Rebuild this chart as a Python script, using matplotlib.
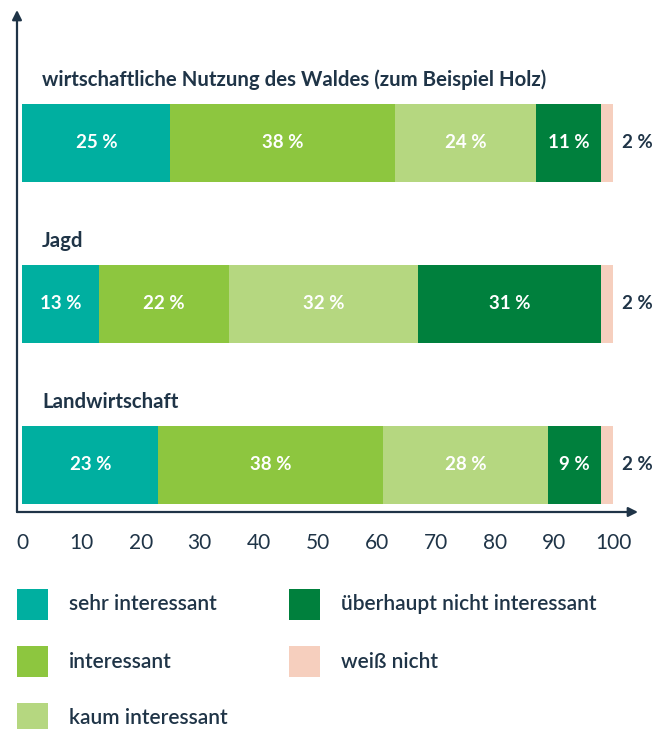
import matplotlib
matplotlib.use("Agg")
import matplotlib.pyplot as plt
from matplotlib.patches import Rectangle
import numpy as np

# Data
categories = ["wirtschaftliche Nutzung des Waldes (zum Beispiel Holz)", "Jagd", "Landwirtschaft"]
series = ["sehr interessant", "interessant", "kaum interessant",
          "überhaupt nicht interessant", "weiß nicht"]
values = [
    [25, 38, 24, 11, 2],
    [13, 22, 32, 31, 2],
    [23, 38, 28, 9, 2],
]
colors = ["#00AFA0", "#8DC63F", "#B5D780", "#00803D", "#F6CFBE"]
xticks = [0, 10, 20, 30, 40, 50, 60, 70, 80, 90, 100]

dark = "#1F3447"
plt.rcParams['font.family'] = ['Lato', 'DejaVu Sans']

W, H = 670, 729
fig = plt.figure(figsize=(W / 100, H / 100), dpi=100)

def fx(px):
    return px / W

def fy(py):
    return 1 - py / H

# axes placed in pixel terms: left 17, right 638, top 10, bottom 512
ax = fig.add_axes([fx(17), fy(512), fx(638) - fx(17), fy(10) - fy(512)])
ax.set_xlim(-0.93, 104.2)
ax.set_ylim(2.292, -0.826)

bar_h = 0.4845
for i, (cat, vals) in enumerate(zip(categories, values)):
    left = 0
    for j, v in enumerate(vals):
        ax.barh(i, v, left=left, height=bar_h, color=colors[j], edgecolor='none')
        if j < 4:
            ax.text(left + v / 2, i, f"{v} %", ha='center', va='center',
                    color='white', fontsize=13.5, fontweight='bold')
        else:
            ax.annotate(f"{v} %", xy=(left + v, i), xytext=(6.5, 0),
                        textcoords='offset points', ha='left', va='center',
                        color=dark, fontsize=13.5, fontweight='bold')
        left += v
    ax.text(3.3, i - bar_h / 2 - 0.15, cat, ha='left', va='center',
            color=dark, fontsize=14.7, fontweight='bold')

for s in ax.spines.values():
    s.set_visible(False)
ax.set_yticks([])
ax.set_xticks(xticks)
ax.set_xticklabels([str(t) for t in xticks], fontsize=15, color=dark)
ax.tick_params(axis='x', length=0, pad=15)

# axis arrows
arrow = dict(arrowstyle='-|>', color=dark, lw=1.6, mutation_scale=14, shrinkA=0, shrinkB=0)
ax.annotate('', xy=(1, 0), xytext=(0, 0), xycoords='axes fraction', arrowprops=arrow)
ax.annotate('', xy=(0, 1), xytext=(0, 0), xycoords='axes fraction', arrowprops=arrow)

# legend drawn by hand
leg_pos = [(17, 589), (17, 646), (17, 703), (289, 589), (289, 646)]
for (lx, ly), name, c in zip(leg_pos, series, colors):
    fig.patches.append(Rectangle((fx(lx), fy(ly + 31)), fx(31), 31 / H,
                                 transform=fig.transFigure, color=c, lw=0))
    fig.text(fx(lx + 52), fy(ly + 15.5), name, ha='left', va='center',
             color=dark, fontsize=15, fontweight='semibold')

fig.savefig("out.png", dpi=100)
